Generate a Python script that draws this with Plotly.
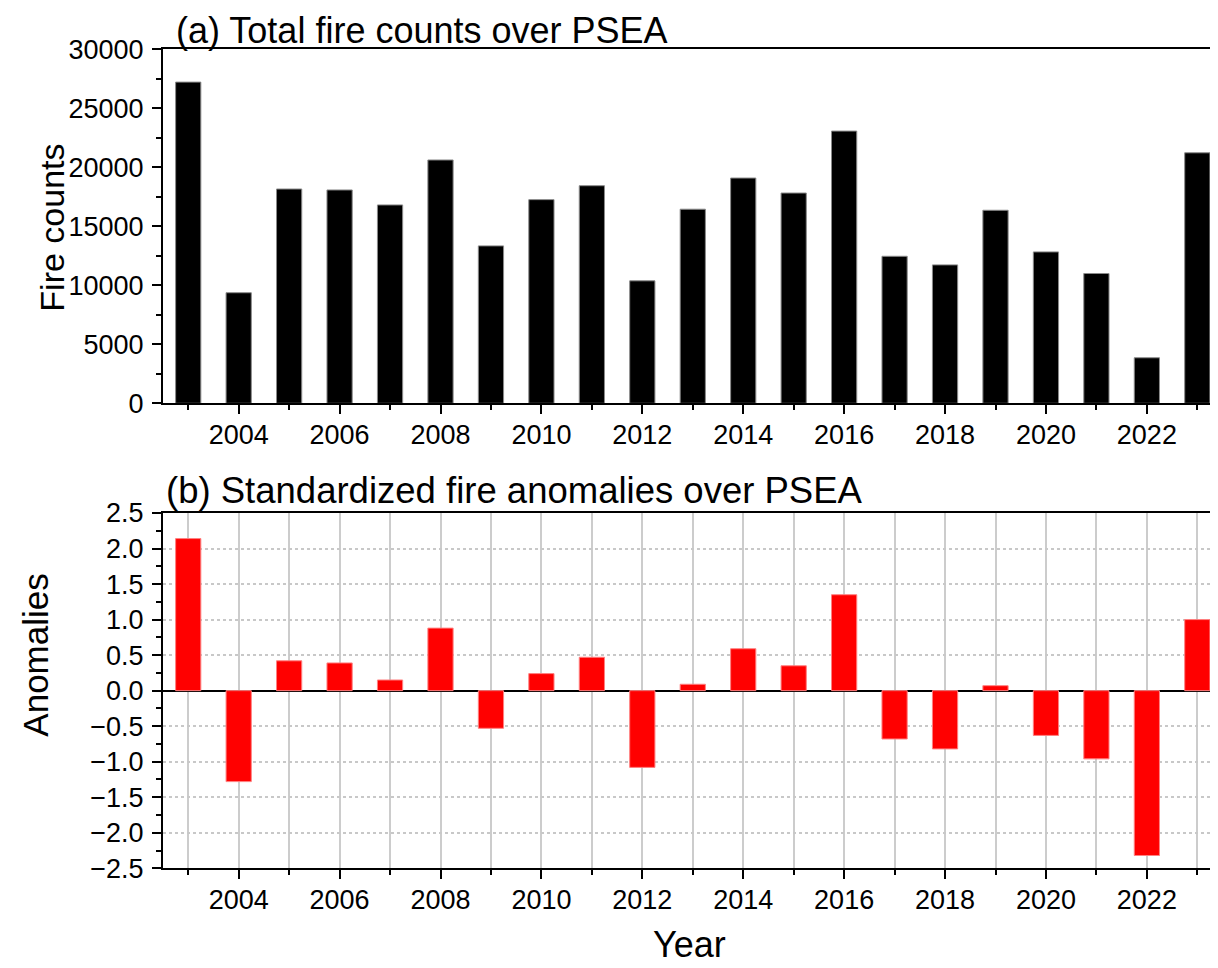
import plotly.graph_objects as go
from plotly.subplots import make_subplots

years = list(range(2003, 2024))
fire_counts = [27220, 9370, 18160, 18080, 16810, 20620, 13340, 17260, 18440, 10380,
               16450, 19090, 17820, 23070, 12460, 11730, 16360, 12830, 11000, 3860, 21230]
anomalies = [2.14, -1.28, 0.42, 0.39, 0.15, 0.88, -0.53, 0.24, 0.47, -1.08,
             0.09, 0.59, 0.35, 1.35, -0.68, -0.82, 0.07, -0.63, -0.96, -2.32, 1.00]

title_a = "(a) Total fire counts over PSEA"
title_b = "(b) Standardized fire anomalies over PSEA"
ylabel_a = "Fire counts"
ylabel_b = "Anomalies"
xlabel = "Year"

# page body has an 8px default margin: work in screenshot pixels and shift
OFF = 8
W, H = 1218 - OFF, 968 - OFF
L = 163.3 - OFF
R = 0
FONT = "Liberation Sans, Arial, sans-serif"


def px_x(px):
    return (px - OFF - L) / (W - L - R)


def px_y(py):
    return 1 - (py - OFF) / H


fig = make_subplots(rows=2, cols=1, vertical_spacing=0.05)

fig.add_trace(go.Bar(x=years, y=fire_counts, width=0.5,
                     marker=dict(color="black", line=dict(color="#8a8a8a", width=1)),
                     showlegend=False), row=1, col=1)
fig.add_trace(go.Bar(x=years, y=anomalies, width=0.5,
                     marker=dict(color="#ff0000", line=dict(color="#ff8080", width=1)),
                     showlegend=False), row=2, col=1)

xcommon = dict(range=[2002.5, 2023.41], tick0=2004, dtick=2, ticks="outside", ticklen=9,
               tickwidth=2, tickcolor="black", showline=True, linecolor="black", linewidth=2,
               mirror=True, tickfont=dict(family=FONT, size=27, color="black"),
               ticklabelstandoff=-3, automargin=False, domain=[0, 1])

fig.update_layout(
    xaxis=dict(**xcommon, showgrid=False, zeroline=False,
               minor=dict(dtick=1, tick0=2003, ticks="outside", ticklen=5, tickwidth=2,
                          tickcolor="black", showgrid=False)),
    xaxis2=dict(**xcommon, showgrid=True, gridcolor="#cccccc", gridwidth=1.5, zeroline=False,
                minor=dict(dtick=1, tick0=2003, ticks="outside", ticklen=5, tickwidth=2,
                           tickcolor="black", showgrid=True, gridcolor="#cccccc", gridwidth=1.5)),
    yaxis=dict(domain=[px_y(403.3), px_y(49.3)], range=[0, 30000], dtick=5000, tickformat="d",
               ticks="outside", ticklen=9, tickwidth=2, tickcolor="black", automargin=False,
               showline=True, linecolor="black", linewidth=2, showgrid=False, zeroline=False,
               tickfont=dict(family=FONT, size=27, color="black"), ticklabelstandoff=3,
               minor=dict(dtick=2500, ticks="outside", ticklen=5, tickwidth=2, tickcolor="black")),
    yaxis2=dict(domain=[px_y(868.3), px_y(513)], range=[-2.5, 2.5], dtick=0.5,
                tickformat=".1f", ticks="outside", ticklen=9, tickwidth=2, tickcolor="black",
                showline=True, linecolor="black", linewidth=2, automargin=False,
                showgrid=True, gridcolor="#c8c8c8", gridwidth=1.5, griddash="dot",
                zeroline=True, zerolinecolor="black", zerolinewidth=2,
                tickfont=dict(family=FONT, size=27, color="black"), ticklabelstandoff=3,
                minor=dict(dtick=0.25, ticks="outside", ticklen=5, tickwidth=2,
                           tickcolor="black", showgrid=False)),
    width=W, height=H,
    margin=dict(l=L, r=R, t=0, b=0),
    plot_bgcolor="white", paper_bgcolor="white",
    bargap=0.5,
)

ann = [
    dict(text=title_a, x=px_x(174), y=px_y(30), xanchor="left", yanchor="middle", size=36, angle=0),
    dict(text=title_b, x=px_x(164), y=px_y(490), xanchor="left", yanchor="middle", size=36.5, angle=0),
    dict(text=ylabel_a, x=px_x(52), y=px_y(228), xanchor="center", yanchor="middle", size=34, angle=-90),
    dict(text=ylabel_b, x=px_x(35), y=px_y(655), xanchor="center", yanchor="middle", size=35, angle=-90),
    dict(text=xlabel, x=px_x(690), y=px_y(944), xanchor="center", yanchor="middle", size=36, angle=0),
]
for a in ann:
    fig.add_annotation(text=a["text"], x=a["x"], y=a["y"], xref="paper", yref="paper",
                       xanchor=a["xanchor"], yanchor=a["yanchor"], showarrow=False,
                       textangle=a["angle"],
                       font=dict(family=FONT, size=a["size"], color="black"))

fig.write_html("out.html")
